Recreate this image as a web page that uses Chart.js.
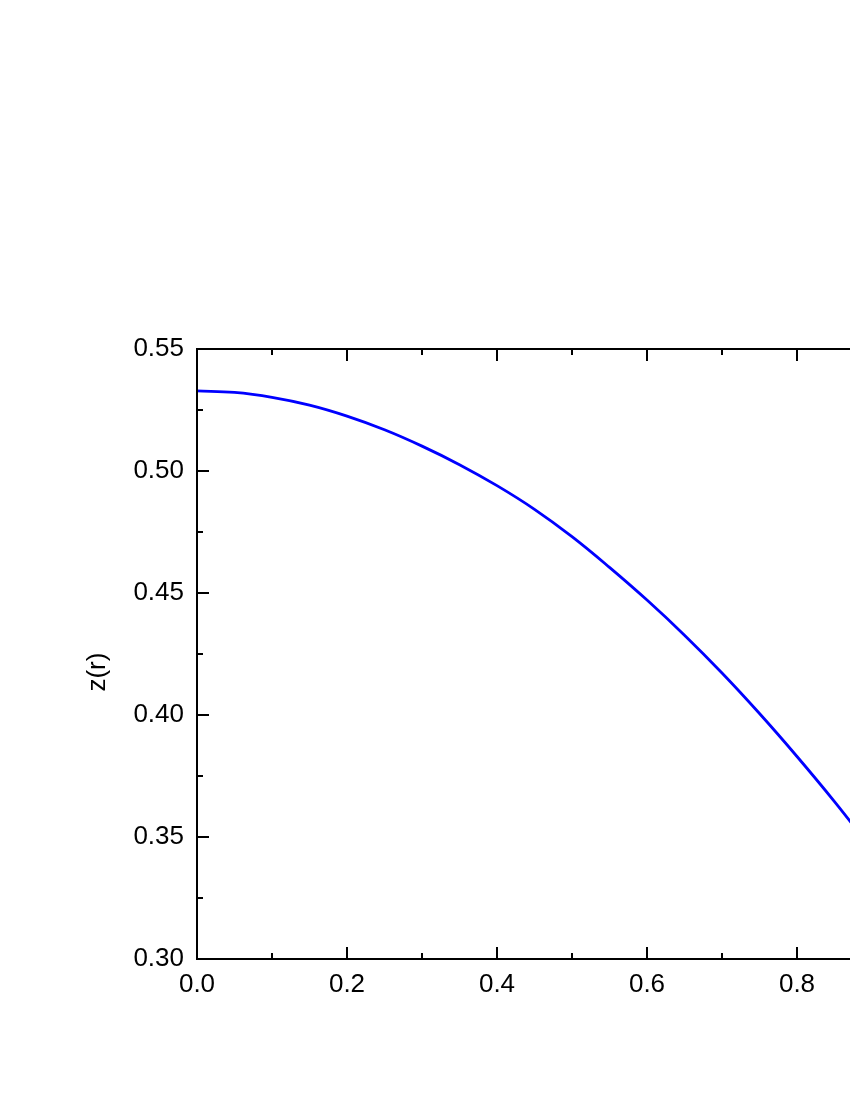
<!DOCTYPE html>
<html>
<head>
<meta charset="utf-8">
<script src="https://cdn.jsdelivr.net/npm/chart.js@4/dist/chart.umd.min.js"></script>
<style>
  html, body { margin: 0; padding: 0; background: #fff; overflow: hidden; }
  #wrap { position: absolute; left: 0; top: 0; width: 1100px; height: 1100px; }
</style>
</head>
<body>
<div id="wrap"><canvas id="profile"></canvas></div>
<script>
// radius r and height z(r)
const rValues = [0, 0.05, 0.1, 0.15, 0.2, 0.25, 0.3, 0.35, 0.4, 0.45, 0.5,
                 0.55, 0.6, 0.65, 0.7, 0.75, 0.8, 0.85, 0.9];
const zValues = [0.5328, 0.5322, 0.5302, 0.5270, 0.5225, 0.5169, 0.5102, 0.5026, 0.4940, 0.4843, 0.4731,
                 0.4605, 0.4471, 0.4327, 0.4172, 0.4006, 0.3830, 0.3645, 0.3449];
const xTicks = [0.0, 0.2, 0.4, 0.6, 0.8, 1.0];
const yTicks = [0.30, 0.35, 0.40, 0.45, 0.50, 0.55];

const font = { family: 'Liberation Sans, Arial, sans-serif', size: 26 };

// box round the plot with inward ticks on all four sides
const frame = {
    id: 'frame',
    afterDraw(chart) {
        const ctx = chart.ctx;
        const a = chart.chartArea;
        const xs = chart.scales.x, ys = chart.scales.y;
        ctx.save();
        ctx.strokeStyle = '#000';
        ctx.lineWidth = 2;
        ctx.strokeRect(a.left, a.top, a.right - a.left, a.bottom - a.top);
        ctx.beginPath();
        for (let i = 0; i < xTicks.length; i++) {
            for (let k = 0; k < 2; k++) {
                const v = xTicks[i] + k * 0.1;
                if (v > xs.max + 1e-9) continue;
                const p = Math.round(xs.getPixelForValue(v));
                const len = k ? 6 : 12;
                ctx.moveTo(p, a.bottom); ctx.lineTo(p, a.bottom - len);
                ctx.moveTo(p, a.top); ctx.lineTo(p, a.top + len);
            }
        }
        for (let i = 0; i < yTicks.length; i++) {
            for (let k = 0; k < 2; k++) {
                const v = yTicks[i] + k * 0.025;
                if (v > ys.max + 1e-9) continue;
                const p = Math.round(ys.getPixelForValue(v));
                const len = k ? 6 : 12;
                ctx.moveTo(a.left, p); ctx.lineTo(a.left + len, p);
                ctx.moveTo(a.right, p); ctx.lineTo(a.right - len, p);
            }
        }
        ctx.stroke();
        ctx.restore();
    }
};

new Chart(document.getElementById('profile'), {
    type: 'line',
    data: {
        datasets: [{
            data: rValues.map((r, i) => ({ x: r, y: zValues[i] })),
            borderColor: '#0000ff',
            borderWidth: 2.8,
            pointRadius: 0,
            tension: 0.4,
            fill: false
        }]
    },
    options: {
        responsive: true,
        maintainAspectRatio: false,
        animation: false,
        layout: { padding: { left: 78, top: 349, right: 153, bottom: 81 } },
        plugins: { legend: { display: false }, tooltip: { enabled: false } },
        scales: {
            x: {
                type: 'linear',
                min: 0, max: 1.0,
                afterFit(s) { s.height = 60; },
                afterBuildTicks(s) { s.ticks = xTicks.map(v => ({ value: v })); },
                grid: { display: false, drawTicks: false },
                border: { display: false },
                ticks: {
                    color: '#000', font: font, padding: 10, maxRotation: 0,
                    callback: v => v.toFixed(1)
                }
            },
            y: {
                min: 0.30, max: 0.55,
                afterFit(s) { s.width = 119; },
                afterBuildTicks(s) { s.ticks = yTicks.map(v => ({ value: v })); },
                grid: { display: false, drawTicks: false },
                border: { display: false },
                ticks: {
                    color: '#000', font: font, padding: 13,
                    callback: v => v.toFixed(2)
                },
                title: {
                    display: true,
                    text: 'z(r)     ',
                    color: '#000',
                    font: font,
                    padding: { top: 4, bottom: 0 }
                }
            }
        }
    },
    plugins: [frame]
});
</script>
</body>
</html>
